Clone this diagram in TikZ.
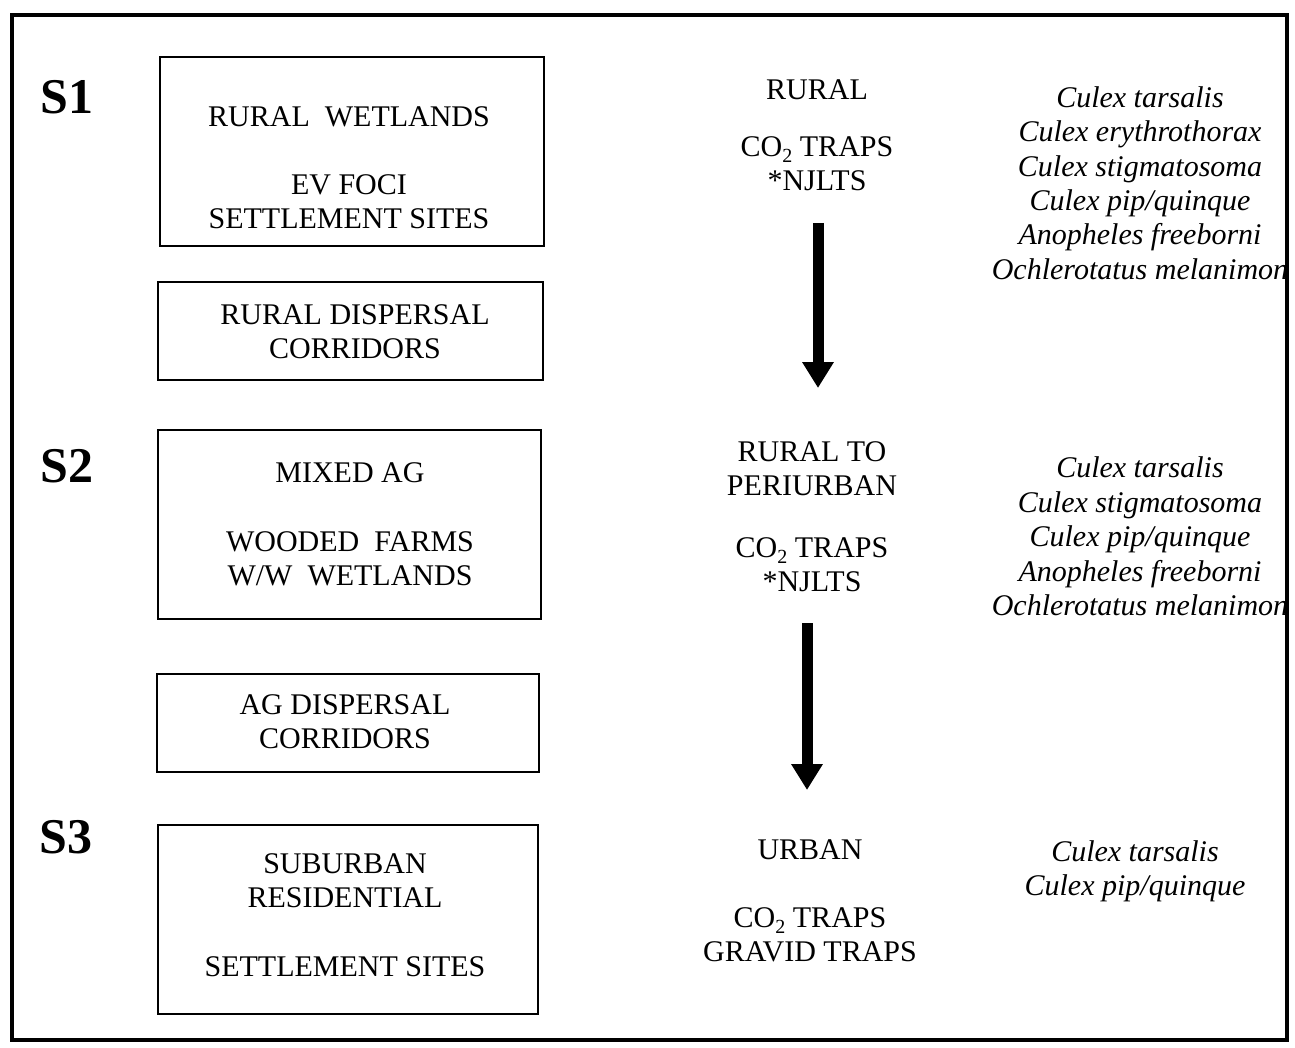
\documentclass[tikz,border=0pt]{standalone}
\usepackage{fontspec}
\setmainfont{Liberation Serif}
\usetikzlibrary{arrows.meta}
\newcommand{\cotwo}{CO\raisebox{-0.45ex}{\fontsize{10}{10}\selectfont 2}}
\begin{document}
\begin{tikzpicture}[x=0.5pt,y=-0.5pt,
  frame/.style={draw=black, line width=2pt},
  zonebox/.style={draw=black, line width=1.3pt, inner sep=0pt},
  stage/.style={font=\fontsize{25}{28}\selectfont\bfseries, inner sep=0pt},
  habitat/.style={font=\fontsize{15}{17}\selectfont, align=center, inner sep=0pt},
  species/.style={font=\fontsize{15}{17.2}\selectfont\itshape, align=center, inner sep=0pt},
  flow/.style={line width=5.5pt, -{Triangle[width=15pt,length=13pt]}}]

% page and outer frame
\useasboundingbox (0,0) rectangle (1295,1048);
\draw[frame] (12,15) rectangle (1287,1040);

% stage labels
\node[stage] (s1) at (67,97) {S1};
\node[stage] (s2) at (67,466) {S2};
\node[stage] (s3) at (66,837) {S3};

% habitat boxes
\node[zonebox, minimum width=192pt, minimum height=94.5pt] (b1) at (352,151.5) {};
\node[zonebox, minimum width=192.5pt, minimum height=49pt] (b2) at (350.5,331) {};
\node[zonebox, minimum width=191.5pt, minimum height=94.5pt] (b3) at (349.5,524.5) {};
\node[zonebox, minimum width=191pt, minimum height=49pt] (b4) at (348,723) {};
\node[zonebox, minimum width=190pt, minimum height=94.5pt] (b5) at (348,919.5) {};

% habitat texts
\node[habitat] (t1) at (349,167.5) {RURAL\enspace WETLANDS\\[17pt] EV FOCI\\ SETTLEMENT SITES};
\node[habitat] (t2) at (355,331.5) {RURAL DISPERSAL\\ CORRIDORS};
\node[habitat] (t3) at (350,524.5) {MIXED AG\\[17.5pt] WOODED\enspace FARMS\\ W/W\enspace WETLANDS};
\node[habitat] (t4) at (345,722) {AG DISPERSAL\\ CORRIDORS};
\node[habitat] (t5) at (345,915.5) {SUBURBAN\\ RESIDENTIAL\\[17.5pt] SETTLEMENT SITES};

% zone and trap types
\node[habitat] (m1) at (817,135.5) {RURAL\\[11.5pt] \cotwo\ TRAPS\\ *NJLTS};
\node[habitat] (m2) at (812,516.5) {RURAL TO\\ PERIURBAN\\[14pt] \cotwo\ TRAPS\\ *NJLTS};
\node[habitat] (m3) at (810,900.5) {URBAN\\[17pt] \cotwo\ TRAPS\\ GRAVID TRAPS};

% species lists
\node[species] (sp1) at (1140,183) {Culex tarsalis\\ Culex erythrothorax\\ Culex stigmatosoma\\ Culex pip/quinque\\ Anopheles freeborni\\ Ochlerotatus melanimon};
\node[species] (sp2) at (1140,536.5) {Culex tarsalis\\ Culex stigmatosoma\\ Culex pip/quinque\\ Anopheles freeborni\\ Ochlerotatus melanimon};
\node[species] (sp3) at (1135,871) {Culex tarsalis\\ Culex pip/quinque};

% flow arrows between zones
\coordinate (a1s) at (818,223);
\coordinate (a1e) at (818,388);
\coordinate (a2s) at (807,623);
\coordinate (a2e) at (807,790);
\draw[flow] (a1s) -- (a1e);
\draw[flow] (a2s) -- (a2e);
\end{tikzpicture}
\end{document}
